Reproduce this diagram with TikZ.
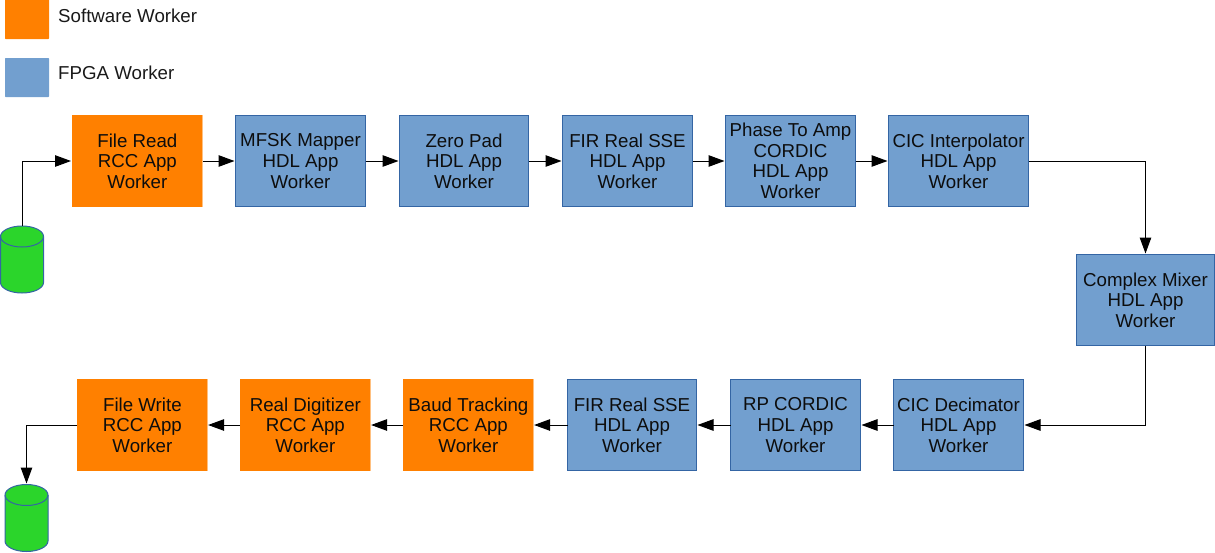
\documentclass[tikz,border=0pt]{standalone}
\usepackage{fontspec}
\setmainfont{Liberation Sans}
\usetikzlibrary{arrows.meta}
\definecolor{orangefill}{HTML}{FF8000}
\definecolor{orangeedge}{HTML}{FFC080}
\definecolor{bluefill}{HTML}{729FCF}
\definecolor{blueedge}{HTML}{3465A4}
\definecolor{greenfill}{HTML}{2BD52B}
\tikzset{
  worker/.style={rectangle,align=center,font=\fontsize{18.7}{20.6}\selectfont,inner sep=0pt,outer sep=0pt,text=black!95},
  fpga/.style={worker,fill=bluefill,draw=blueedge,line width=1pt},
  soft/.style={worker,fill=orangefill,draw=none,path picture={\fill[orangeedge] ([xshift=-1pt]path picture bounding box.north east) rectangle (path picture bounding box.south east);}},
  legendswatch/.style={rectangle,inner sep=0pt,outer sep=0pt,rounded corners=0.6pt},
  legendtext/.style={anchor=west,inner sep=0pt,font=\fontsize{18.7}{20}\selectfont,text=black!90},
  store/.style={rectangle,inner sep=0pt,outer sep=0pt,minimum width=43pt,minimum height=67pt},
  storeshape/.style={draw=blueedge,fill=greenfill,line width=1pt},
  link/.style={draw=black,line width=1pt,-{Triangle[length=16pt,width=11.5pt]},shorten >=1pt},
  linksoft/.style={link,shorten >=0.3pt}
}
\newcommand{\wbox}[7]{\node[#1,minimum width=#4pt-#2pt,minimum height=#5pt-#3pt] (#6) at ({(#2+#4)/2},{(#3+#5)/2}) {#7};}
\newcommand{\drum}[1]{%
  \draw[storeshape] ([yshift=-10.5pt]#1.north west) arc[start angle=180,end angle=0,x radius=21.5pt,y radius=10.5pt]
    -- ([yshift=10.5pt]#1.south east) arc[start angle=360,end angle=180,x radius=21.5pt,y radius=10.5pt] -- cycle;
  \draw[storeshape,fill=none] ([yshift=-10.5pt]#1.north west) arc[start angle=180,end angle=360,x radius=21.5pt,y radius=10.5pt];}
\begin{document}
\begin{tikzpicture}[x=1pt,y=-1pt]
\useasboundingbox (0,0) rectangle (1215,552);
% legend
\node[legendswatch,fill=orangefill,minimum width=44pt,minimum height=40pt] (lgs) at (27,19) {};
\node[legendswatch,fill=bluefill,minimum width=44pt,minimum height=39pt] (lgf) at (27,77.5) {};
\node[legendtext] (lgst) at (58,16) {Software Worker};
\node[legendtext] (lgft) at (58,73) {FPGA Worker};
% top row
\wbox{soft}{72}{115}{202.8}{207}{a}{File Read\\RCC App\\Worker}
\wbox{fpga}{235.5}{115.5}{365.5}{206.5}{b}{MFSK Mapper\\HDL App\\Worker}
\wbox{fpga}{399.5}{115.5}{528.5}{206.5}{c}{Zero Pad\\HDL App\\Worker}
\wbox{fpga}{562.5}{115.5}{692.5}{206.5}{d}{FIR Real SSE\\HDL App\\Worker}
\wbox{fpga}{725.5}{115.5}{855.5}{206.5}{e}{Phase To Amp\\CORDIC\\HDL App\\Worker}
\wbox{fpga}{888.5}{115.5}{1028.5}{206.5}{f}{CIC Interpolator\\HDL App\\Worker}
% mixer
\wbox{fpga}{1076.5}{254.5}{1214.5}{345.5}{g}{Complex Mixer\\HDL App\\Worker}
% bottom row
\wbox{fpga}{893.5}{379.5}{1023.5}{470.5}{h}{CIC Decimator\\HDL App\\Worker}
\wbox{fpga}{730.5}{379.5}{860.5}{470.5}{i}{RP CORDIC\\HDL App\\Worker}
\wbox{fpga}{567.5}{379.5}{696.5}{470.5}{j}{FIR Real SSE\\HDL App\\Worker}
\wbox{soft}{403}{379}{533.8}{471}{k}{Baud Tracking\\RCC App\\Worker}
\wbox{soft}{240}{379}{370.8}{471}{l}{Real Digitizer\\RCC App\\Worker}
\wbox{soft}{77}{379}{207.8}{471}{m}{File Write\\RCC App\\Worker}
% stores
\node[store] (s1) at (22,259.5) {};
\node[store] (s2) at (26.5,518) {};
\drum{s1}
\drum{s2}
% connectors
\draw[link] (s1.north) |- (a.west);
\draw[link] (a) -- (b);
\draw[link] (b) -- (c);
\draw[link] (c) -- (d);
\draw[link] (d) -- (e);
\draw[link] (e) -- (f);
\draw[link] (f.east) -| (g.north);
\draw[link] (g.south) |- (h.east);
\draw[link] (h) -- (i);
\draw[link] (i) -- (j);
\draw[linksoft] (j) -- (k);
\draw[linksoft] (k) -- (l);
\draw[linksoft] (l) -- (m);
\draw[link] (m.west) -| (s2.north);
\end{tikzpicture}
\end{document}
